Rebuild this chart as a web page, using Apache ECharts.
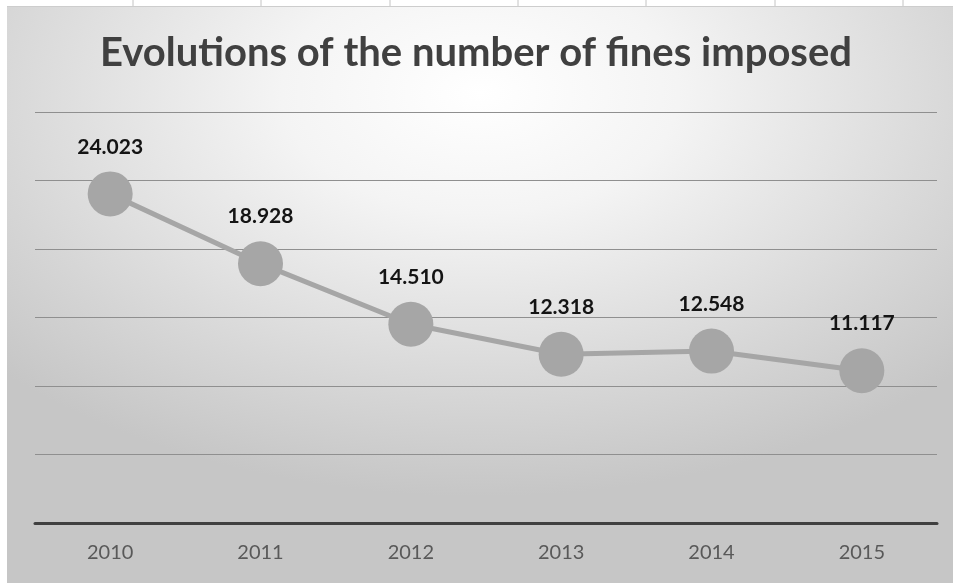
<!DOCTYPE html>
<html>
<head>
<meta charset="utf-8">
<script src="https://cdn.jsdelivr.net/npm/echarts@6/dist/echarts.min.js"></script>
<style>
  html, body { margin: 0; padding: 0; background: #ffffff; }
  #chart { width: 958px; height: 586px; }
</style>
</head>
<body>
<div id="chart"></div>
<script>
// Yearly number of fines imposed
const years = ['2010', '2011', '2012', '2013', '2014', '2015'];
const fines = [24023, 18928, 14510, 12318, 12548, 11117];
const titleText = 'Evolutions of the number of fines imposed';

// Thousands separator written with a dot, e.g. 24.023
function dotThousands(v) {
  return String(v).replace(/\B(?=(\d{3})+(?!\d))/g, '.');
}

const chart = echarts.init(document.getElementById('chart'), null, { renderer: 'canvas' });

// Panel geometry: a framed card with a soft elliptical highlight
const panel = { x: 7, y: 6, w: 946, h: 577 };

const topTicks = [133, 261, 390, 518, 646, 775, 903].map(function (x) {
  return {
    type: 'line', silent: true, z: -5,
    shape: { x1: x, y1: 0, x2: x, y2: panel.y },
    style: { stroke: '#c4c4c4', lineWidth: 1 }
  };
});

chart.setOption({
  animation: false,
  title: {
    text: titleText,
    left: 95,
    top: 28,
    textStyle: {
      fontFamily: 'Lato',
      fontWeight: 'bold',
      fontSize: 40,
      color: '#404040'
    }
  },
  graphic: [
    {
      type: 'rect', silent: true, z: -10,
      x: panel.x, y: panel.y,
      scaleY: panel.h / panel.w,
      shape: { x: 0, y: 0, width: panel.w, height: panel.w },
      style: {
        fill: {
          type: 'radial', x: 0.5, y: 0.15, r: 0.7,
          colorStops: [
            { offset: 0, color: '#ffffff' },
            { offset: 0.3, color: '#f4f4f4' },
            { offset: 0.75, color: '#d6d6d6' },
            { offset: 1, color: '#c6c6c6' }
          ]
        }
      }
    },
    {
      type: 'line', silent: true, z: -9,
      shape: { x1: panel.x, y1: panel.y + 0.5, x2: panel.x + panel.w, y2: panel.y + 0.5 },
      style: { stroke: '#cdcdcd', lineWidth: 1 }
    }
  ].concat(topTicks),
  grid: { left: 35, right: 21, top: 112, bottom: 63 },
  xAxis: {
    type: 'category',
    data: years,
    boundaryGap: true,
    axisLine: { show: true, lineStyle: { color: '#404040', width: 3 } },
    axisTick: { show: false },
    axisLabel: {
      margin: 20,
      fontFamily: 'Lato',
      fontSize: 20,
      color: '#595959'
    },
    splitLine: { show: false }
  },
  yAxis: {
    type: 'value',
    min: 0,
    max: 30000,
    interval: 5000,
    axisLine: { show: false },
    axisTick: { show: false },
    axisLabel: { show: false },
    splitLine: { show: true, lineStyle: { color: '#8f8f8f', width: 1 } }
  },
  series: [
    {
      type: 'line',
      data: fines,
      symbol: 'circle',
      symbolSize: 45,
      itemStyle: { color: '#a6a6a6' },
      lineStyle: { color: '#a6a6a6', width: 5 },
      label: {
        show: true,
        position: 'top',
        distance: 14,
        formatter: function (p) { return dotThousands(p.value); },
        fontFamily: 'Lato',
        fontWeight: 'bold',
        fontSize: 21,
        color: '#141414'
      }
    }
  ]
});
</script>
</body>
</html>
